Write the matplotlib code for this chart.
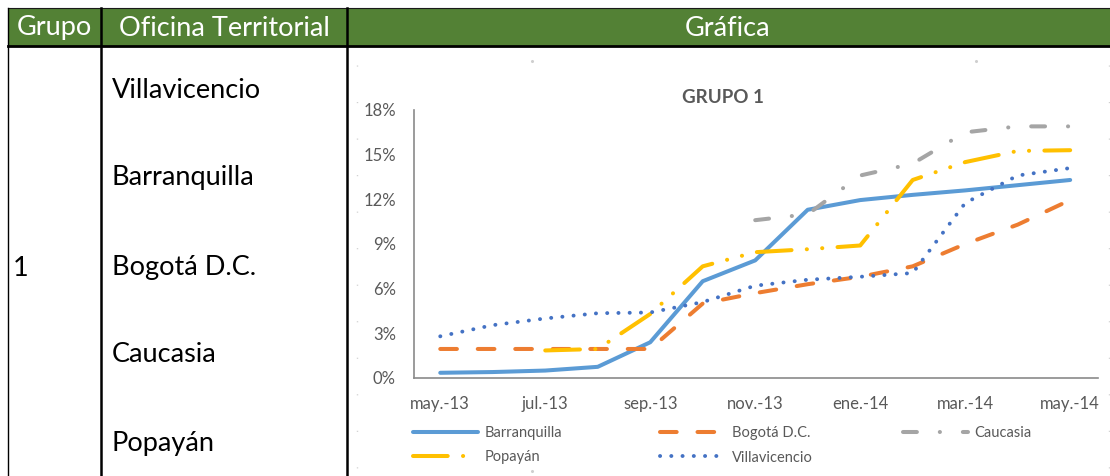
import numpy as np
import matplotlib
matplotlib.use("Agg")
import matplotlib.pyplot as plt
from matplotlib.patches import Rectangle

plt.rcParams["font.family"] = ["Lato", "DejaVu Sans"]
plt.rcParams["lines.scale_dashes"] = False

W, H = 1110, 476

# datos del grafico (porcentaje)
meses = ["may.-13", "jun.-13", "jul.-13", "ago.-13", "sep.-13", "oct.-13", "nov.-13",
         "dic.-13", "ene.-14", "feb.-14", "mar.-14", "abr.-14", "may.-14"]
nan = np.nan
barranquilla = [0.35, 0.4, 0.5, 0.75, 2.4, 6.5, 7.9, 11.3, 11.95, 12.3, 12.6, 12.95, 13.3]
bogota = [1.95, 1.95, 1.95, 1.95, 1.95, 5.0, 5.7, 6.3, 6.8, 7.5, 9.0, 10.3, 11.95]
caucasia = [nan, nan, nan, nan, nan, nan, 10.6, 11.0, 13.6, 14.4, 16.5, 16.9, 16.9]
popayan = [nan, nan, 1.85, 1.95, 4.3, 7.5, 8.45, 8.65, 8.9, 13.3, 14.5, 15.25, 15.3]
villavicencio = [2.8, 3.55, 4.0, 4.35, 4.4, 5.1, 6.2, 6.6, 6.8, 7.05, 11.75, 13.6, 14.1]

# tabla
encabezados = ["Grupo", "Oficina Territorial", "Gráfica"]
grupo = "1"
oficinas = ["Villavicencio", "Barranquilla", "Bogotá D.C.", "Caucasia", "Popayán"]

fig = plt.figure(figsize=(W / 100, H / 100), dpi=100)

tab = fig.add_axes([0, 0, 1, 1])
tab.set_xlim(0, W)
tab.set_ylim(H, 0)
tab.axis("off")

tab.add_patch(Rectangle((8, 8), W - 8, 38, color="#538135", lw=0))
tab.plot([8, W], [8, 8], color="#1a1a1a", lw=0.8)
tab.plot([8, W], [46, 46], color="black", lw=2)
tab.plot([8, 8], [8, H], color="black", lw=1)
tab.plot([101, 101], [8, H], color="black", lw=1.8)
tab.plot([347, 347], [8, H], color="black", lw=1.8)

for txt, xc in zip(encabezados, [54, 224, 728]):
    tab.text(xc, 28, txt, color="white", fontsize=19.5, ha="center", va="center")

tab.text(13, 268, grupo, fontsize=19.5, ha="left", va="center", color="black")
for txt, yc in zip(oficinas, [90, 177, 268, 355, 443]):
    tab.text(112, yc, txt, fontsize=19.5, ha="left", va="center", color="black")

# marcas tenues del area del grafico
for xd in [357, 1109]:
    tab.plot([xd, xd], [65, H], color="#cfcfcf", lw=1, linestyle=(0, (0.8, 25.5)))
tab.plot([532, 976], [61, 61], "o", color="#cfcfcf", ms=1.2)
tab.plot([532], [471], "o", color="#cfcfcf", ms=1.2)

# grafico
ax = fig.add_axes([414 / W, 1 - 378 / H, (1098 - 414) / W, (378 - 110) / H])
ax.set_facecolor("none")
x = np.arange(len(meses))

lw = 2.9
l1, = ax.plot(x, barranquilla, color="#5B9BD5", lw=lw, solid_capstyle="round",
              solid_joinstyle="round", label="Barranquilla")
l2, = ax.plot(x, bogota, color="#ED7D31", lw=lw, linestyle=(0, (12, 15)),
              dash_capstyle="round", label="Bogotá D.C.")
l3, = ax.plot(x, caucasia, color="#A5A5A5", lw=lw, linestyle=(0, (10, 16.5, 0.1, 16.5)),
              dash_capstyle="round", label="Caucasia")
l4, = ax.plot(x, popayan, color="#FFC000", lw=lw, linestyle=(0, (25, 11, 0.1, 11, 0.1, 11)),
              dash_capstyle="round", label="Popayán")
l5, = ax.plot(x, villavicencio, color="#4472C4", lw=2.8, linestyle=(0, (0.1, 8)),
              dash_capstyle="round", label="Villavicencio")

ax.set_xlim(-0.5, 12.53)
ax.set_ylim(0, 18)
ax.set_xticks(x[::2])
ax.set_xticklabels(meses[::2])
ax.set_yticks(np.arange(0, 19, 3))
ax.set_yticklabels([f"{v}%" for v in range(0, 19, 3)])
ax.tick_params(length=0, pad=13, colors="#595959", labelsize=12)
for s in ["top", "right"]:
    ax.spines[s].set_visible(False)
for s in ["left", "bottom"]:
    ax.spines[s].set_color("#8a8a8a")
    ax.spines[s].set_linewidth(1.2)

fig.text(723 / W, 1 - 98 / H, "GRUPO 1", fontsize=13.5, fontweight="bold",
         color="#595959", ha="center", va="center")

for hs, xl in [([l1, l4], 413), ([l2, l5], 660), ([l3], 903)]:
    fig.legend(handles=hs, loc="upper left", bbox_to_anchor=(xl / W, 1 - 426 / H),
               frameon=False, fontsize=10.5, handlelength=4.46, handletextpad=0.45,
               labelspacing=0.72, borderpad=0, borderaxespad=0, labelcolor="#595959")

fig.savefig("out.png", dpi=100)
